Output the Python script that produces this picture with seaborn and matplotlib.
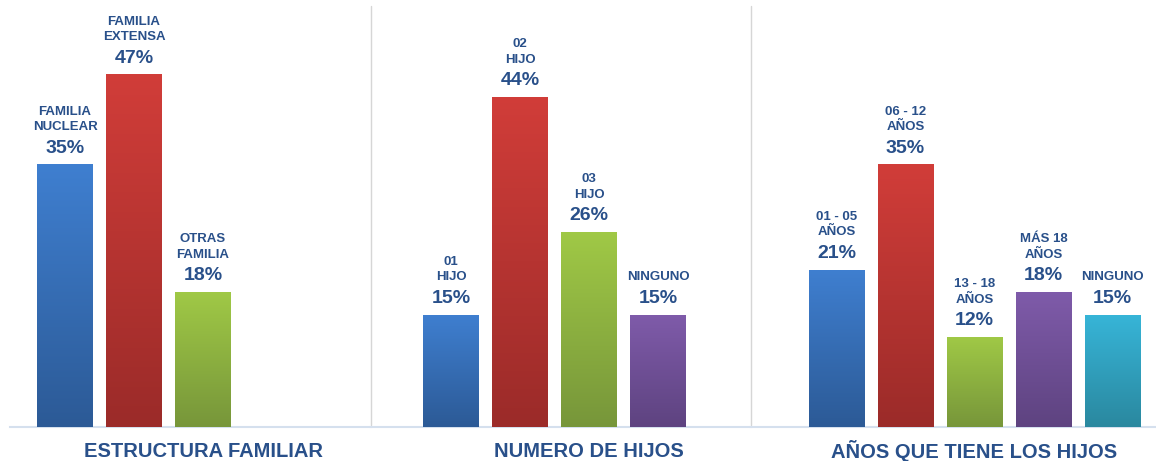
import seaborn as sns
import matplotlib.pyplot as plt
import matplotlib.colors as mcolors
import numpy as np
import pandas as pd

# data
estructura_labels = ["FAMILIA\nNUCLEAR", "FAMILIA\nEXTENSA", "OTRAS\nFAMILIA"]
estructura_values = [35, 47, 18]

hijos_labels = ["01\nHIJO", "02\nHIJO", "03\nHIJO", "NINGUNO"]
hijos_values = [15, 44, 26, 15]

edades_labels = ["01 - 05\nAÑOS", "06 - 12\nAÑOS", "13 - 18\nAÑOS", "MÁS 18\nAÑOS", "NINGUNO"]
edades_values = [21, 35, 12, 18, 15]

group_titles = ["ESTRUCTURA FAMILIAR", "NUMERO DE HIJOS", "AÑOS QUE TIENE LOS HIJOS"]

# (top, bottom) gradient colours per bar
BLUE = ("#3F7FD0", "#2C5A96")
RED = ("#D13D39", "#9B2B29")
GREEN = ("#A0C946", "#77963A")
PURPLE = ("#7F5BAA", "#5E4380")
CYAN = ("#37B5D8", "#2A889F")

TEXT_COLOR = "#29508A"

sns.set_style("white")
plt.rcParams["font.family"] = ["Liberation Sans", "DejaVu Sans"]

W, H = 1156, 461
fig = plt.figure(figsize=(W / 100, H / 100), dpi=100)

base_y = 427
ymax = base_y / 7.5
px = 69.0  # pixels per bar slot

groups = [
    (estructura_labels, estructura_values, [BLUE, RED, GREEN], 10, 361, 65, 204),
    (hijos_labels, hijos_values, [BLUE, RED, GREEN, PURPLE], 371, 380, 451, 589),
    (edades_labels, edades_values, [BLUE, RED, GREEN, PURPLE, CYAN], 751, 405, 836.5, 974),
]


def gradient_bars(ax, colors):
    xlim, ylim = ax.get_xlim(), ax.get_ylim()
    for patch, (top, bottom) in zip(ax.patches, colors):
        x0, w, h = patch.get_x(), patch.get_width(), patch.get_height()
        t = np.linspace(0, 1, 200)[:, None]
        c0 = np.array(mcolors.to_rgb(top))
        c1 = np.array(mcolors.to_rgb(bottom))
        img = (1 - t)[:, :, None] * c0 + t[:, :, None] * c1
        im = ax.imshow(img, extent=[x0, x0 + w, 0, h], aspect="auto",
                       origin="upper", zorder=3)
        im.set_clip_path(patch)
    ax.set_xlim(xlim)
    ax.set_ylim(ylim)


for i, (labels, values, colors, left, width, first_center, title_x) in enumerate(groups):
    ax = fig.add_axes([left / W, (H - base_y) / H, width / W, base_y / H])
    df = pd.DataFrame({"cat": labels, "val": values})
    sns.barplot(data=df, x="cat", y="val", hue="cat",
                palette=[c[0] for c in colors], saturation=1,
                width=0.81, legend=False, ax=ax, linewidth=0)

    x_start = -(first_center - left) / px
    ax.set_xlim(x_start, x_start + width / px)
    ax.set_ylim(0, ymax)
    gradient_bars(ax, colors)

    for k, (lab, v) in enumerate(zip(labels, values)):
        ax.annotate(f"{v}%", (k, v), xytext=(0, 8.5), textcoords="offset points",
                    ha="center", va="baseline", fontsize=14, fontweight="bold",
                    color=TEXT_COLOR)
        ax.annotate(lab, (k, v), xytext=(0, 24.5), textcoords="offset points",
                    ha="center", va="baseline", fontsize=9.5, fontweight="bold",
                    color=TEXT_COLOR, linespacing=1.4)

    ax.set_xticks([])
    ax.set_yticks([])
    ax.set_xlabel("")
    ax.set_ylabel("")
    for side in ["top", "right", "left"]:
        ax.spines[side].set_visible(False)
    ax.spines["bottom"].set_color("#D5E0EE")
    ax.spines["bottom"].set_linewidth(1.5)

    if i > 0:
        ax.plot([0, 0], [0.005, 0.985], transform=ax.transAxes, color="#D6D6D6",
                lw=1.0, clip_on=False)

    fig.text(title_x / W, 1 - 451 / H, group_titles[i], ha="center", va="center",
             fontsize=14.5, fontweight="bold", color=TEXT_COLOR)

fig.savefig("out.png", dpi=100)
